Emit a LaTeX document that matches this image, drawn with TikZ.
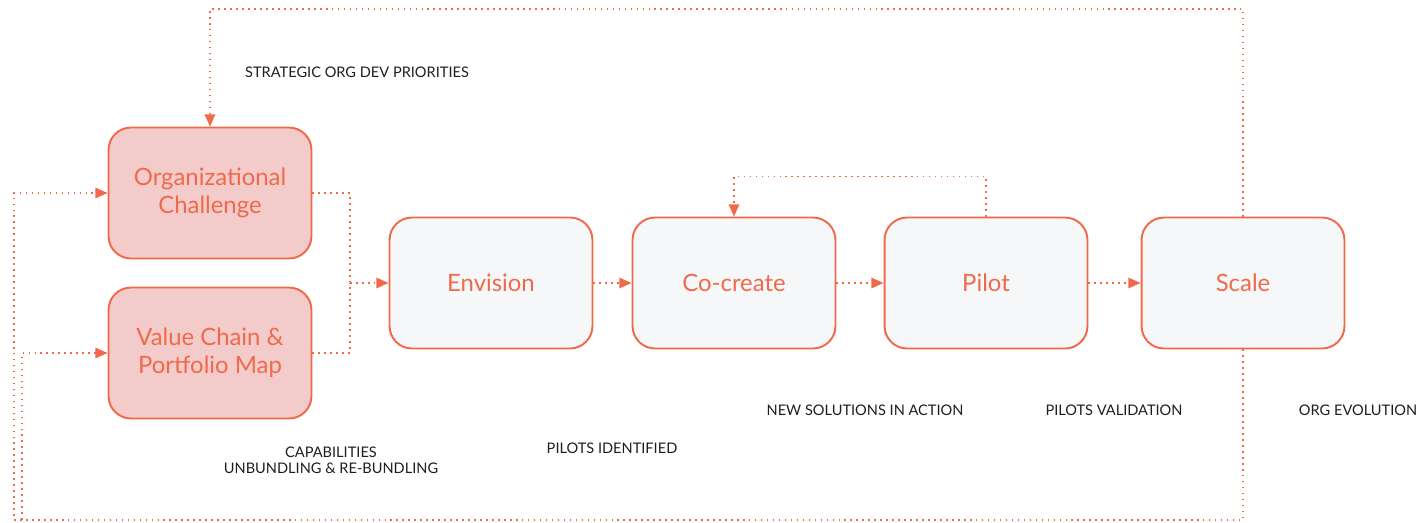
\documentclass[tikz,border=0pt]{standalone}
\usepackage{fontspec}
\setmainfont{Lato}
\usepackage{xcolor}
\usetikzlibrary{arrows.meta}

\definecolor{coral}{HTML}{F06A4A}
\definecolor{rosefill}{HTML}{F4CBCB}
\definecolor{paper}{HTML}{F6F7F9}
\definecolor{inkgray}{HTML}{1E1E1E}

\begin{document}
\begin{tikzpicture}[x=0.02cm, y=-0.02cm,
  stagebox/.style={draw=coral, line width=1.1pt, rounded corners=0.45cm,
    minimum width=4.06cm, minimum height=2.62cm, align=center,
    text=coral, font=\fontsize{13.6}{16.2}\selectfont},
  inputbox/.style={stagebox, fill=rosefill},
  phasebox/.style={stagebox, fill=paper},
  flow/.style={draw=coral, line width=0.85pt, dash pattern=on 0.9pt off 2.5pt},
  tip/.style={-{Triangle[length=7pt, width=6pt]}},
  note/.style={text=inkgray, font=\fontsize{8.3}{9.2}\selectfont, align=center}]

\useasboundingbox (0,0) rectangle (1425,522);

% Inputs
\node[inputbox] (org) at (210,193) {Organizational\\Challenge};
\node[inputbox] (vc) at (210,353) {Value Chain \&\\Portfolio Map};

% Stages
\node[phasebox] (env) at (491,283) {Envision};
\node[phasebox] (cocreate) at (734,283) {Co-create};
\node[phasebox] (pilot) at (986,283) {Pilot};
\node[phasebox] (scale) at (1243,283) {Scale};

% Helper points
\coordinate (merge) at (350,283);
\coordinate (topline) at (0,9);
\coordinate (loopa) at (14,520);
\coordinate (loopb) at (22,520);

% Inputs join into Envision
\draw[flow] (org.east) -| (merge);
\draw[flow] (vc.east) -| (merge);
\draw[flow, tip] (merge) -- (env.west);

% Stage chain
\draw[flow, tip] (env.east) -- (cocreate.west);
\draw[flow, tip] (cocreate.east) -- (pilot.west);
\draw[flow, tip] (pilot.east) -- (scale.west);

% Feedback loops
\draw[flow, tip] (pilot.north) -- ++(0,-40) -| (cocreate.north);
\draw[flow, tip] (scale.north) |- (org.north |- topline) -- (org.north);
\draw[flow, tip] (scale.south) |- (loopa) |- (org.west);
\draw[flow, tip] (scale.south) |- (loopb) |- (vc.west);

% Labels
\node[note] (lstrat) at (357,72) {STRATEGIC ORG DEV PRIORITIES};
\node[note] (lcap) at (331,460) {CAPABILITIES\\UNBUNDLING \& RE-BUNDLING};
\node[note] (lpil) at (612,448) {PILOTS IDENTIFIED};
\node[note] (lnew) at (865,410) {NEW SOLUTIONS IN ACTION};
\node[note] (lval) at (1114,410) {PILOTS VALIDATION};
\node[note] (levo) at (1358,410) {ORG EVOLUTION};

\end{tikzpicture}
\end{document}
